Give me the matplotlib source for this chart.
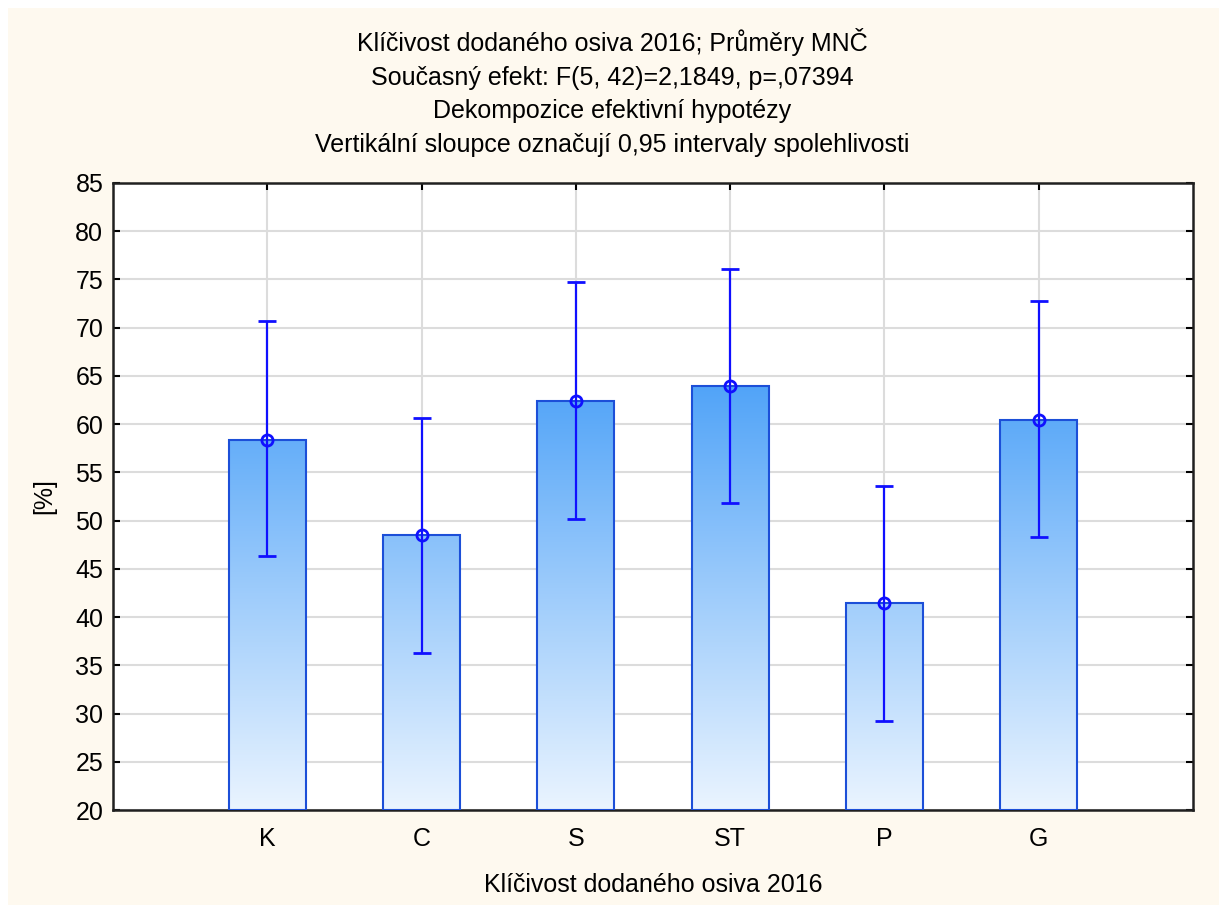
import numpy as np
import matplotlib.pyplot as plt
from matplotlib.colors import LinearSegmentedColormap
from matplotlib.patches import Rectangle

# data
categories = ['K', 'C', 'S', 'ST', 'P', 'G']
means = [58.4, 48.5, 62.4, 64.0, 41.5, 60.4]
ci_low = [46.3, 36.3, 50.2, 51.8, 29.2, 48.3]
ci_high = [70.7, 60.6, 74.7, 76.1, 53.6, 72.8]

title_lines = ['Klíčivost dodaného osiva 2016; Průměry MNČ',
               'Současný efekt: F(5, 42)=2,1849, p=,07394',
               'Dekompozice efektivní hypotézy',
               'Vertikální sloupce označují 0,95 intervaly spolehlivosti']
xlabel = 'Klíčivost dodaného osiva 2016'
ylabel = '[%]'

plt.rcParams['font.family'] = ['Liberation Sans', 'DejaVu Sans']
cream = '#fef9ef'

fig = plt.figure(figsize=(12.24, 9.09), dpi=100)
fig.patch.set_facecolor('white')
fig.patches.append(Rectangle((8 / 1224, 4 / 909), 1211 / 1224, 897 / 909,
                             transform=fig.transFigure, facecolor=cream,
                             edgecolor='none', zorder=-10))

ax = fig.add_axes([113 / 1224, 1 - 810 / 909, 1080 / 1224, 627 / 909])
ax.set_facecolor('white')

x = np.arange(1, len(categories) + 1)
ax.set_yticks(np.arange(20, 86, 5))
ax.set_xticks(x)
ax.set_xticklabels(categories)
ax.grid(True, color='#dcdcdc', linewidth=1.5, zorder=0)
ax.set_axisbelow(True)

# gradient bars (colour depends on height, same scale for every bar)
cmap = LinearSegmentedColormap.from_list('bl', ['#eaf4ff', '#9ccbfb', '#4aa0f8'])
grad = np.linspace(0, 1, 256).reshape(-1, 1)
w = 0.5
for xi, m in zip(x, means):
    im = ax.imshow(grad, cmap=cmap, origin='lower', aspect='auto',
                   extent=(xi - w / 2, xi + w / 2, 20, 66), zorder=2,
                   interpolation='bilinear')
    r = Rectangle((xi - w / 2, 20), w, m - 20, facecolor='none',
                  edgecolor='#1c4fd8', linewidth=1.5, zorder=3)
    ax.add_patch(r)
    im.set_clip_path(r)

yerr = [np.array(means) - np.array(ci_low), np.array(ci_high) - np.array(means)]
ax.errorbar(x, means, yerr=yerr, fmt='o', color='#1010ff', ecolor='#1010ff',
            elinewidth=1.6, capsize=6.5, capthick=1.6, markersize=8,
            markerfacecolor='none', markeredgewidth=2, zorder=4)

ax.set_xlim(0, 7)
ax.set_ylim(20, 85)
ax.tick_params(direction='in', top=True, right=True, length=5, width=1.5,
               labelsize=18, pad=12)
ax.tick_params(axis='y', pad=7)
for s in ax.spines.values():
    s.set_linewidth(1.8)
    s.set_color('#202020')

ax.set_xlabel(xlabel, fontsize=18, labelpad=16)
ax.set_ylabel(ylabel, fontsize=18, labelpad=14)

# title lines placed on their baselines
title_base = [51, 85, 118, 152]
for line, ty in zip(title_lines, title_base):
    fig.text(0.5, 1 - ty / 909, line, ha='center', va='baseline', fontsize=18)

fig.savefig('out.png', dpi=100, facecolor=fig.get_facecolor())
